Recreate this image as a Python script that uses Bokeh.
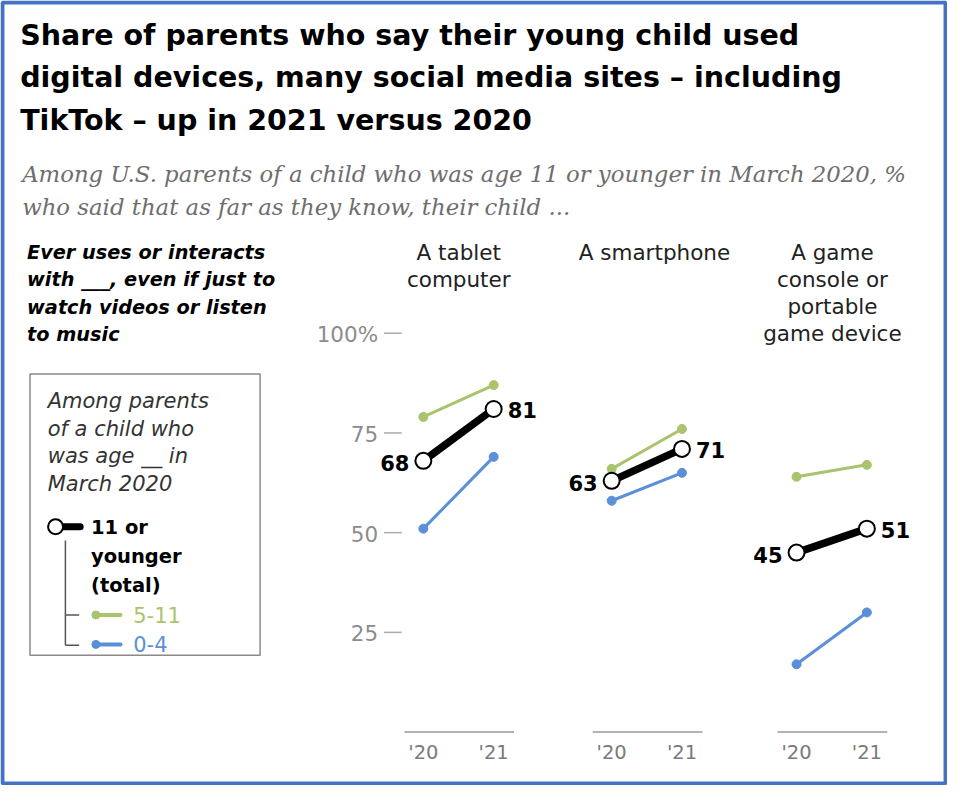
from bokeh.plotting import figure
from bokeh.models import Range1d, Label
from bokeh.core.properties import value
from bokeh.embed import file_html
from bokeh.resources import INLINE

# ---------------- data ----------------
devices = ["A tablet\ncomputer", "A smartphone", "A game\nconsole or\nportable\ngame device"]
years = [2020, 2021]
year_labels = ["'20", "'21"]
total = [[68, 81], [63, 71], [45, 51]]          # 11 or younger (total)
age_5_11 = [[79, 87], [66, 76], [64, 67]]
age_0_4 = [[51, 69], [58, 65], [17, 30]]
y_ticks = [25, 50, 75, 100]
y_tick_labels = ["25", "50", "75", "100%"]

title_lines = ["Share of parents who say their young child used",
               "digital devices, many social media sites \u2013 including",
               "TikTok \u2013 up in 2021 versus 2020"]
subtitle_lines = ["Among U.S. parents of a child who was age 11 or younger in March 2020, %",
                  "who said that as far as they know, their child ..."]
question_lines = ["Ever uses or interacts", "with ___, even if just to",
                  "watch videos or listen", "to music"]
legend_head = ["Among parents", "of a child who", "was age __ in", "March 2020"]
legend_total = ["11 or", "younger", "(total)"]
legend_groups = ["5-11", "0-4"]

# ---------------- style / layout ----------------
W, H = 947, 785              # canvas size (fits the window with its 8px margin)
LW, LH = 963, 801            # layout space in which positions below are given
PX_PER_PT = 4.07             # layout pixels per percentage point
ZERO_Y = 746.5               # layout y of the 0% level
YEAR_PX = 71.5               # layout pixels between '20 and '21
PANEL_X20 = [430, 621.5, 809.5]   # layout x of the '20 point in each panel
HEAD_X = [466, 665, 846]     # heading centres

GREEN = "#a9c46c"
BLUE = "#5b8fd8"
TICK = "#8c8c8c"
BASE = "#9a9a9a"
SANS = "DejaVu Sans"
SERIF = "DejaVu Serif"

zero_from_bottom = LH - ZERO_Y
p = figure(width=W, height=H,
           x_range=Range1d(0, LW),
           y_range=Range1d(-zero_from_bottom / PX_PER_PT, (LH - zero_from_bottom) / PX_PER_PT),
           output_backend="svg", toolbar_location=None,
           x_axis_location=None, y_axis_location=None, min_border=0,
           outline_line_color=None, background_fill_color="white",
           border_fill_color="white")
p.title_location = None
p.xgrid.visible = False
p.ygrid.visible = False
p.extra_y_ranges = {"ref": Range1d(LH, 0)}
p.extra_x_ranges = {
    f"p{k}": Range1d(2020 - a / YEAR_PX, 2020 + (LW - a) / YEAR_PX)
    for k, a in enumerate(PANEL_X20)
}


def label(txt, x, y, size, color="#000000", style="normal", font=SANS,
          align="left"):
    p.add_layout(Label(x=x, y=y, y_range_name="ref", text=txt,
                       text_font=font, text_font_size=f"{size}px",
                       text_font_style=style, text_color=color,
                       text_align=align, text_baseline="middle"))


# frame border of the screenshot
p.quad(left=[2], right=[LW - 2], top=[2], bottom=[LH - 2],
       y_range_name="ref", fill_color=None, line_color="#4472c4", line_width=4)

# title & subtitle
for i, t in enumerate(title_lines):
    label(t, 20, 36 + i * 43, 28.5, style="bold")
for i, t in enumerate(subtitle_lines):
    label(t, 22, 177.5 + i * 33.5, 22.8, color="#6e6e6e", style="italic", font=SERIF)

# question text
for i, t in enumerate(question_lines):
    label(t, 27, 257 + i * 28, 19.3, style="bold italic")

# legend box
p.quad(left=[30], right=[264], top=[381], bottom=[668], y_range_name="ref",
       fill_color=None, line_color="#8a8a8a", line_width=1.5)
for i, t in enumerate(legend_head):
    label(t, 48, 409 + i * 28, 21, color="#333333", style="italic")
# legend marks
p.segment(x0=[56], x1=[81], y0=[537], y1=[537], y_range_name="ref",
          line_color="black", line_width=7, line_cap="round")
p.scatter(x=[56], y=[537], y_range_name="ref", size=15, fill_color="white",
          line_color="black", line_width=2)
for i, t in enumerate(legend_total):
    label(t, 92, 538 + i * 29.5, 19.5, style="bold")
p.segment(x0=[66, 66, 66], x1=[66, 80, 80], y0=[551, 627, 658], y1=[658, 627, 658],
          y_range_name="ref", line_color="#555555", line_width=1.5)
for t, yy, c in zip(legend_groups, [627, 657], [GREEN, BLUE]):
    p.segment(x0=[97], x1=[122], y0=[yy], y1=[yy], y_range_name="ref",
              line_color=c, line_width=4, line_cap="round")
    p.scatter(x=[97], y=[yy], y_range_name="ref", size=8, color=c)
    label(t, 135, yy, 21, color=c)

# y ticks (left of first panel)
p.text(x=[384] * len(y_ticks), y=y_ticks, text=y_tick_labels,
       text_font=value(SANS), text_font_size="21.5px", text_color=TICK,
       text_align="right", text_baseline="middle", y_offset=1)
p.segment(x0=[390] * len(y_ticks), x1=[408] * len(y_ticks), y0=y_ticks, y1=y_ticks,
          line_color="#aaaaaa", line_width=1.5)

# panels
for k, dev in enumerate(devices):
    rn = f"p{k}"
    for i, t in enumerate(dev.split("\n")):
        label(t, HEAD_X[k], 257 + i * 27.5, 21.5, color="#222222", align="center")
    # baseline and year labels
    p.segment(x0=[years[0] - 0.27], x1=[years[1] + 0.29], y0=[0], y1=[0],
              x_range_name=rn, line_color=BASE, line_width=1.5)
    p.text(x=years, y=[0, 0], text=year_labels, x_range_name=rn, y_offset=20,
           text_font=value(SANS), text_font_size="19.5px", text_color="#7a7a7a",
           text_align="center", text_baseline="middle")
    # sub-groups
    for vals, c in [(age_5_11[k], GREEN), (age_0_4[k], BLUE)]:
        p.line(x=years, y=vals, x_range_name=rn, line_color=c, line_width=3)
        p.scatter(x=years, y=vals, x_range_name=rn, size=9, color=c)
    # total
    p.line(x=years, y=total[k], x_range_name=rn, line_color="black", line_width=7.5)
    p.scatter(x=years, y=total[k], x_range_name=rn, size=16, fill_color="white",
              line_color="black", line_width=2)
    p.text(x=[years[0]], y=[total[k][0]], text=[str(total[k][0])], x_range_name=rn,
           x_offset=-14, y_offset=2, text_font=value(SANS), text_font_size="21px",
           text_font_style="bold", text_color="black", text_align="right",
           text_baseline="middle")
    p.text(x=[years[1]], y=[total[k][1]], text=[str(total[k][1])], x_range_name=rn,
           x_offset=14, y_offset=1, text_font=value(SANS), text_font_size="21px",
           text_font_style="bold", text_color="black", text_align="left",
           text_baseline="middle")

open("out.html", "w").write(file_html(p, INLINE))
